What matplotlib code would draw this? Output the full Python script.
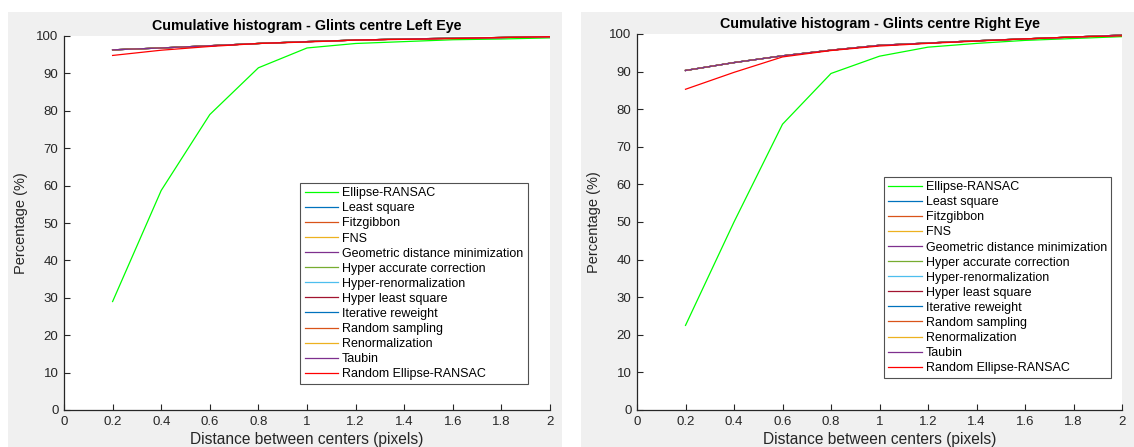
import matplotlib
matplotlib.use("Agg")
import matplotlib.pyplot as plt
from matplotlib.patches import Rectangle

plt.rcParams['font.family'] = ['Liberation Sans', 'DejaVu Sans']

# distances (pixels)
dist = [0.2, 0.4, 0.6, 0.8, 1.0, 1.2, 1.4, 1.6, 1.8, 2.0]

methods = ['Ellipse-RANSAC', 'Least square', 'Fitzgibbon', 'FNS',
           'Geometric distance minimization', 'Hyper accurate correction',
           'Hyper-renormalization', 'Hyper least square', 'Iterative reweight',
           'Random sampling', 'Renormalization', 'Taubin', 'Random Ellipse-RANSAC']
colors = ['#00ff00', '#0072bd', '#d95319', '#edb120', '#7e2f8e', '#77ac30',
          '#4dbeee', '#a2142f', '#0072bd', '#d95319', '#edb120', '#7e2f8e', '#ff0000']

# left eye
left_ransac = [29.0, 58.7, 79.0, 91.5, 96.8, 98.0, 98.5, 99.0, 99.2, 99.5]
left_others = [96.3, 96.8, 97.4, 98.0, 98.5, 98.9, 99.2, 99.4, 99.6, 99.8]
left_random = [94.8, 96.2, 97.2, 98.0, 98.4, 98.9, 99.1, 99.3, 99.6, 99.8]

# right eye
right_ransac = [22.5, 50.0, 76.0, 89.5, 94.1, 96.5, 97.5, 98.3, 98.8, 99.3]
right_others = [90.3, 92.4, 94.2, 95.7, 97.0, 97.6, 98.2, 98.7, 99.2, 99.7]
right_random = [85.3, 89.8, 93.9, 95.6, 96.8, 97.5, 98.1, 98.7, 99.2, 99.5]

W, H = 1134, 447
fig = plt.figure(figsize=(W / 100, H / 100), dpi=100)
fig.patch.set_facecolor('white')

# grey panels behind each axes
for x0, x1 in [(8, 562), (581, 1134)]:
    fig.patches.append(Rectangle((x0 / W, 0), (x1 - x0) / W, (H - 12) / H,
                                 transform=fig.transFigure, facecolor='#f0f0f0',
                                 edgecolor='none', zorder=-1))


def draw(ax, ransac, others, random, title, legpos):
    series = [ransac] + [others] * 11 + [random]
    for name, c, ys in zip(methods, colors, series):
        ax.plot(dist, ys, color=c, lw=0.9, label=name)
    ax.set_xlim(0, 2)
    ax.set_ylim(0, 100)
    ax.set_xticks([0, 0.2, 0.4, 0.6, 0.8, 1, 1.2, 1.4, 1.6, 1.8, 2])
    ax.set_xticklabels(['0', '0.2', '0.4', '0.6', '0.8', '1', '1.2', '1.4', '1.6', '1.8', '2'])
    ax.set_yticks(range(0, 101, 10))
    for s in ['top', 'right']:
        ax.spines[s].set_visible(False)
    for s in ['left', 'bottom']:
        ax.spines[s].set_color('#262626')
        ax.spines[s].set_linewidth(0.9)
    ax.tick_params(direction='in', length=4, width=0.8, colors='#262626',
                   labelsize=9.5, pad=4)
    ax.set_title(title, fontsize=10.3, fontweight='bold', pad=4)
    ax.set_xlabel('Distance between centers (pixels)', fontsize=11.2, color='#262626', labelpad=3)
    ax.set_ylabel('Percentage (%)', fontsize=10.5, color='#262626', labelpad=6)
    leg = ax.legend(loc='upper left', bbox_to_anchor=legpos, fontsize=9,
                    frameon=True, fancybox=False, handlelength=2.7,
                    handletextpad=0.3, labelspacing=0.245, borderpad=0.35,
                    borderaxespad=0)
    leg.get_frame().set_edgecolor('#262626')
    leg.get_frame().set_linewidth(0.8)


ax1 = fig.add_axes([64 / W, 1 - 410 / H, (550 - 64) / W, (410 - 36) / H])
draw(ax1, left_ransac, left_others, left_random,
     'Cumulative histogram - Glints centre Left Eye', (0.486, 0.607))

ax2 = fig.add_axes([637 / W, 1 - 410 / H, (1122 - 637) / W, (410 - 34) / H])
draw(ax2, right_ransac, right_others, right_random,
     'Cumulative histogram - Glints centre Right Eye', (0.509, 0.62))

fig.savefig('out.png', dpi=100, facecolor=fig.get_facecolor())
